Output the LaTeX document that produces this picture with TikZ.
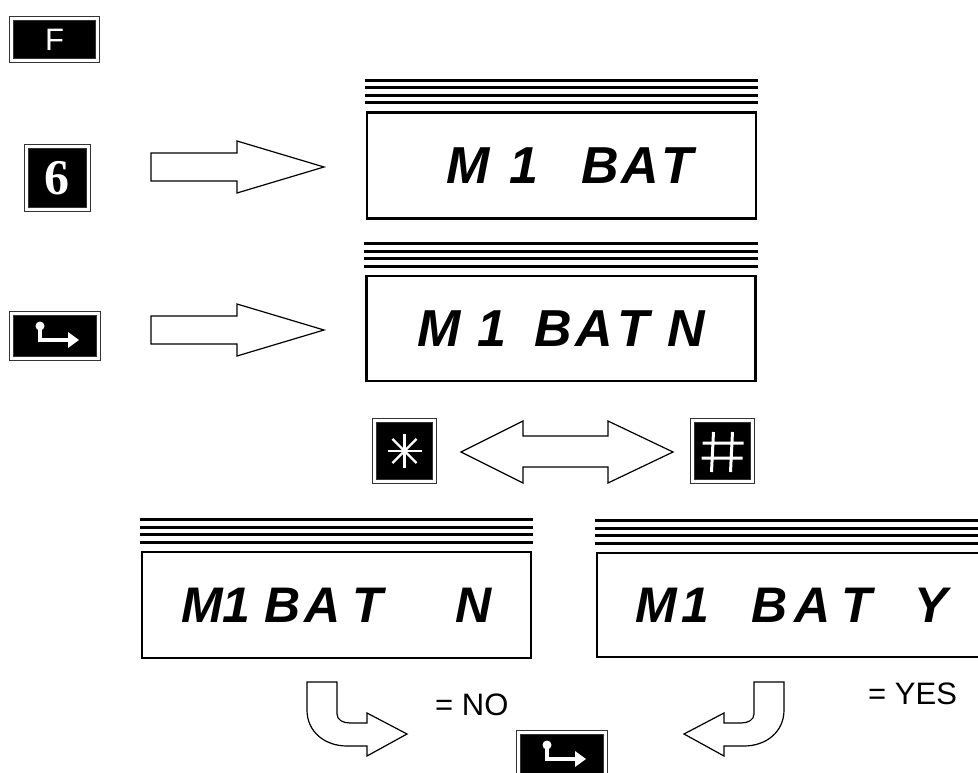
\documentclass[tikz,border=0pt]{standalone}
\usepackage{fontspec}
\setmainfont{Liberation Sans}
\newfontfamily\keyserif{Liberation Serif}
\usetikzlibrary{positioning, calc}

% four bars over a display window
\newcommand{\stripes}[1]{%
  \foreach \dy in {-31,-23.5,-16,-8.5}
    \draw[line width=3pt] ($(#1.north west)+(-1,\dy)$) -- ($(#1.north east)+(1,\dy)$);}

% hollow arrow pointing right: tail x, centre y
\newcommand{\rightblock}[2]{%
  \draw[blockline] (#1,#2-14) -- (#1+86,#2-14) -- (#1+86,#2-26) -- (#1+173,#2)
    -- (#1+86,#2+26) -- (#1+86,#2+14) -- (#1,#2+14) -- cycle;}

% white return symbol inside a key
\newcommand{\enterglyph}[1]{%
  \fill[white] ($(#1)+(-15,-10)$) circle (4.5pt);
  \draw[white, line width=4pt] ($(#1)+(-15,-10)$) -- ($(#1)+(-15,4)$) -- ($(#1)+(15,4)$);
  \fill[white] ($(#1)+(13,-4)$) -- ($(#1)+(24,4)$) -- ($(#1)+(13,12)$) -- cycle;}

\begin{document}
\begin{tikzpicture}[x=1pt, y=-1pt,
    key/.style={fill=black, draw=black!80, line width=1.1pt, double=white, double distance=2.6pt,
      inner sep=0pt, text=white},
    display/.style={draw, line width=2.5pt, minimum width=389pt, inner sep=0pt,
      font=\fontsize{52}{52}\selectfont\bfseries\itshape},
    choice/.style={display, font=\fontsize{50}{50}\selectfont\bfseries\itshape},
    blockline/.style={draw=black, line width=1.2pt, fill=white},
    glyph/.style={white, line width=2.2pt},
    answer/.style={font=\fontsize{31}{31}\selectfont, inner sep=0pt, anchor=base west},
]
    \clip (0,0) rectangle (978,773);

    % keys down the left side
    \node[key, minimum width=86pt, minimum height=42pt, font=\fontsize{31}{31}\selectfont] (fkey) at (54.5,39.5) {F};
    \node[key, minimum width=62pt, minimum height=63pt, font=\fontsize{50}{50}\selectfont\keyserif\bfseries] (sixkey) at (57.5,178) {6};
    \node[key, minimum width=87pt, minimum height=45pt] (enterkey) at (55,336) {};
    \enterglyph{enterkey}

    % first two displays
    \node[display, minimum height=106pt] (batdisp) at (561.5,165.5)
      {\hspace{17pt}M\hspace{19pt}1\hspace{43pt}B\hspace{3pt}A\hspace{2pt}T};
    \stripes{batdisp}
    \node[display, minimum height=105pt] (askdisp) at (561,328.5)
      {M\hspace{17pt}1\hspace{28pt}B\hspace{4pt}A\hspace{4pt}T\hspace{18pt}N\hspace{6pt}};
    \stripes{askdisp}

    \rightblock{151}{167}
    \rightblock{151}{330}

    % toggle keys
    \node[key, minimum width=60pt, minimum height=61pt] (starkey) at (404.5,451) {};
    \foreach \a in {0,45,...,315}
      \draw[glyph] (starkey.center) -- ++(\a:17pt);
    \node[key, minimum width=60pt, minimum height=61pt] (hashkey) at (722.5,451) {};
    \draw[white, line width=3pt]
      ($(hashkey)+(-9,-19)$) -- ($(hashkey)+(-11,21)$)
      ($(hashkey)+(10,-19)$) -- ($(hashkey)+(8,21)$)
      ($(hashkey)+(-20,-8)$) -- ($(hashkey)+(21,-8)$)
      ($(hashkey)+(-21,7)$) -- ($(hashkey)+(20,7)$);

    \draw[blockline] (461,452) -- (523,421) -- (523,436) -- (608,436) -- (608,421) -- (673,452)
      -- (608,483) -- (608,467) -- (523,467) -- (523,483) -- cycle;

    % the two choices
    \node[choice, minimum height=106pt] (nodisp) at (336.5,605)
      {M1\hspace{14pt}B\hspace{4pt}A\hspace{12pt}T\hspace{72pt}N};
    \stripes{nodisp}
    \node[choice, minimum height=104pt] (yesdisp) at (791.5,605)
      {M\hspace{5pt}1\hspace{42pt}B\hspace{7pt}A\hspace{11pt}T\hspace{42pt}Y};
    \stripes{yesdisp}

    % bent arrows down to the confirm key
    \draw[blockline] (307,682) -- (337,682) -- (337,714) .. controls (337,720) and (343,723) .. (350,723)
      -- (367,723) -- (367,713) -- (407,734) -- (367,756) -- (367,746) -- (347,746)
      .. controls (325,746) and (307,732) .. (307,710) -- cycle;
    \begin{scope}[xshift=1091pt, xscale=-1]
      \draw[blockline] (307,682) -- (337,682) -- (337,714) .. controls (337,720) and (343,723) .. (350,723)
        -- (367,723) -- (367,713) -- (407,734) -- (367,756) -- (367,746) -- (347,746)
        .. controls (325,746) and (307,732) .. (307,710) -- cycle;
    \end{scope}

    \node[answer] (nolabel) at (435,715) {= NO};
    \node[answer] (yeslabel) at (868,704) {= YES};

    \node[key, minimum width=87pt, minimum height=45pt] (okkey) at (562,755) {};
    \enterglyph{okkey}
\end{tikzpicture}
\end{document}
